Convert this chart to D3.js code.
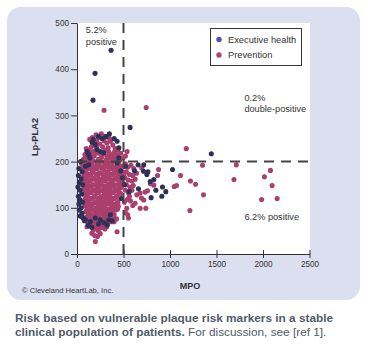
<!DOCTYPE html>
<html>
<head>
<meta charset="utf-8">
<script src="https://cdn.jsdelivr.net/npm/d3@7"></script>
<style>
  html, body { margin: 0; padding: 0; background: #ffffff; }
  svg { display: block; font-family: "Liberation Sans", Arial, sans-serif; }
</style>
</head>
<body>
<svg id="chart" width="368" height="347"></svg>
<script>
// Tick values
const xTicks = [0, 500, 1000, 1500, 2000, 2500];
const yTicks = [0, 100, 200, 300, 400, 500];

// Cut-off values for each marker
const mpoCutoff = 500;
const lpCutoff = 200;

// Series labels
const seriesNames = ["Executive health", "Prevention"];

// Executive health patients: [MPO, Lp-PLA2]
const executivePoints = [
  [366,441],[194,391],[172,333],[571,274],[1444,217],[1027,183],[919,145],[955,135],
  [912,125],[797,122],[848,138],[826,161],[787,157],[751,172],[715,179],[762,178],
  [718,193],[657,193],[618,180],[661,141],[560,135],
  [348,260],[312,254],[162,242],[197,237],[431,244],[126,215],[108,222],[137,208],
  [216,226],[251,222],[288,219],[449,208],[431,197],[126,193],[90,190],
  [40,200],[20,185],[55,178],[15,170],[45,163],[25,155],[60,150],[10,145],[35,138],
  [50,130],[15,125],[30,118],[60,112],[20,108],[45,100],[25,95],[55,88],[35,82],
  [65,78],[80,72],
  [54,81],[89,74],[143,70],[197,78],[251,74],[323,63],[342,74],[359,85],
  [120,62],[160,58],[230,65],[290,68],[380,72],
  [470,180],[490,165],[510,150],[480,120],[520,190],[450,230],[400,250],[270,250],
  [230,255],[175,248]
];

// Prevention patients: [MPO, Lp-PLA2]
const preventionPoints = [
  // high MPO tail
  [291,311],[744,317],[1175,228],[1113,170],[1220,158],[1275,151],[1070,148],[1045,146],
  [1214,94],[1350,192],[1360,128],[1713,193],[1688,161],[2015,167],[2080,181],[2098,148],
  [1985,118],[2152,120],
  [877,183],[866,170],[790,152],[826,149],[697,186],[758,137],[733,134],[718,117],
  [679,132],[643,128],[693,121],[625,110],[679,99],[740,99],[564,125],[535,99],[553,78],
  [539,222],[521,212],
  [520,195],[545,188],[580,192],[610,185],[530,178],[565,172],[600,170],[640,175],
  [515,165],[550,160],[590,158],[625,162],[530,150],[570,145],[605,148],[520,138],
  [555,132],[590,138],[540,118],[510,112],[575,115],[600,105],[520,90],[545,85],
  // main group
  [137,248],[262,260],[228,252],[290,245],[180,240],[245,238],[320,240],[360,244],
  [205,258],[155,232],[275,232],[335,230],[385,236],[410,228],
  [165,252],[210,245],[300,255],[350,250],
  [100,228],[130,225],[175,222],[210,230],[240,218],[300,225],[340,222],[365,215],
  [400,220],[440,225],[470,218],
  [85,215],[140,216],[200,218],[270,216],[320,212],[380,210],[430,215],
  [70,205],[105,210],[150,208],[185,212],[230,205],[265,210],[310,203],[350,208],
  [385,200],[420,210],[460,204],[495,208],
  [90,201],[135,200],[175,202],[215,199],[255,201],[295,198],[335,201],[375,197],
  [410,202],[450,199],
  [50,195],[85,198],[120,192],[160,196],[200,190],[240,195],[280,189],[320,196],
  [360,192],[400,188],[440,196],[475,190],
  [70,188],[105,187],[145,189],[185,186],[225,188],[265,186],[305,190],[345,186],
  [385,189],[425,186],[460,188],
  [60,182],[95,178],[135,185],[170,180],[210,184],[250,176],[290,183],[330,178],
  [370,184],[410,177],[450,182],[490,178],
  [80,174],[120,173],[160,176],[200,173],[240,175],[280,172],[320,174],[360,173],
  [400,175],[440,173],[480,174],
  [70,168],[110,165],[145,171],[185,164],[225,170],[265,163],[305,169],[345,165],
  [385,171],[425,164],[465,168],[505,172],
  [85,161],[125,160],[165,162],[205,160],[245,161],[285,160],[325,162],[365,160],
  [405,162],[445,160],[480,162],
  [65,155],[100,152],[140,158],[178,150],[218,157],[258,152],[298,158],[338,151],
  [378,156],[418,150],[455,157],[495,153],
  [85,149],[130,148],[170,150],[210,148],[250,149],[290,147],[330,149],[370,148],
  [410,149],[455,147],
  [75,143],[115,140],[155,146],[195,139],[235,145],[275,138],[315,144],[355,140],
  [395,146],[435,139],[475,144],
  [90,136],[130,135],[170,137],[210,135],[250,137],[290,134],[330,136],[370,135],
  [410,137],[450,135],
  [70,130],[110,127],[150,133],[190,126],[230,132],[270,125],[310,131],[350,127],
  [390,133],[430,126],[470,131],
  [95,122],[140,121],[180,123],[220,121],[260,123],[300,121],[340,123],[380,121],
  [420,123],[460,120],
  [80,117],[120,114],[160,120],[200,112],[240,118],[280,113],[320,119],[360,114],
  [400,120],[440,112],
  [100,110],[145,109],[185,111],[225,109],[265,110],[305,109],[345,111],[385,109],
  [425,110],
  [85,104],[125,101],[165,107],[205,100],[245,106],[285,102],[325,108],[365,101],
  [405,106],[445,103],
  [110,97],[150,98],[195,96],[235,98],[275,97],[315,98],[355,96],[395,98],[435,97],
  [95,92],[135,88],[175,95],[215,90],[255,94],[295,88],[335,93],[375,89],[415,95],
  [120,86],[160,85],[200,87],[240,85],[280,86],[320,85],[360,87],[400,85],
  [105,80],[145,77],[185,83],[225,76],[265,82],[305,78],[345,84],[385,80],[425,76],
  [130,73],[180,72],[220,74],[260,72],[300,73],[350,72],[400,70],
  [115,68],[160,64],[200,70],[245,66],[285,71],[330,65],[372,70],
  [140,60],[190,62],[235,60],[280,61],[320,59],
  [108,59],[175,52],[205,55],[230,50],[262,57],[300,54],
  [197,27],[190,40],[220,38],[431,48],[160,45],[250,44]
];

// Region annotations: [MPO, Lp-PLA2, lines]
const annotations = [
  { x: 95, y: 478, lines: ["5.2%", "positive"] },
  { x: 1800, y: 332, lines: ["0.2%", "double-positive"] },
  { x: 1800, y: 74, lines: ["6.2% positive"] }
];

const colors = {
  panel: "#dcdff0",
  exec: "#2f3058",
  prev: "#aa3f6d",
  execKey: "#4b53ad",
  prevKey: "#b0456e",
  ink: "#333333",
  caption: "#4f5b68"
};

const svg = d3.select("#chart");

// Rounded figure panel
svg.append("rect")
  .attr("x", 7).attr("y", 7).attr("width", 353).attr("height", 293)
  .attr("rx", 14).attr("ry", 14)
  .attr("fill", colors.panel);

const x = d3.scaleLinear().domain([0, 2500]).range([77, 309.5]);
const y = d3.scaleLinear().domain([0, 500]).range([254, 23]);

// White plotting area
svg.append("rect")
  .attr("x", x(0)).attr("y", y(500))
  .attr("width", x(2500) - x(0) + 0.5).attr("height", y(0) - y(500))
  .attr("fill", "#ffffff");

// Points
const r = 2.55;
svg.append("g").selectAll("circle")
  .data(preventionPoints).join("circle")
  .attr("cx", d => x(d[0])).attr("cy", d => y(d[1])).attr("r", r)
  .attr("fill", colors.prev);

svg.append("g").selectAll("circle")
  .data(executivePoints).join("circle")
  .attr("cx", d => x(d[0])).attr("cy", d => y(d[1])).attr("r", r)
  .attr("fill", colors.exec);

// Cut-off lines
svg.append("line")
  .attr("x1", x(mpoCutoff)).attr("x2", x(mpoCutoff))
  .attr("y1", y(500)).attr("y2", y(0))
  .attr("stroke", "#444").attr("stroke-width", 2).attr("stroke-dasharray", "10,7");
svg.append("line")
  .attr("x1", x(0)).attr("x2", x(2500))
  .attr("y1", y(lpCutoff)).attr("y2", y(lpCutoff))
  .attr("stroke", "#444").attr("stroke-width", 2).attr("stroke-dasharray", "10,7");

// Axes
const xAxis = svg.append("g")
  .attr("transform", `translate(0,${y(0)})`)
  .call(d3.axisBottom(x).tickValues(xTicks).tickFormat(d3.format("d"))
    .tickSize(4).tickSizeOuter(0).tickPadding(3));
xAxis.selectAll(".tick").append("line")
  .attr("y1", 0).attr("y2", -4).attr("stroke", colors.ink);

const yAxis = svg.append("g")
  .attr("transform", `translate(${x(0)},0)`)
  .call(d3.axisLeft(y).tickValues(yTicks).tickFormat(d3.format("d"))
    .tickSize(6).tickSizeOuter(0).tickPadding(2));

[xAxis, yAxis].forEach(g => {
  g.select(".domain").attr("stroke", colors.ink);
  g.selectAll(".tick line").attr("stroke", colors.ink);
  g.selectAll("text")
    .attr("fill", colors.ink)
    .style("font-size", "8.2px")
    .style("font-family", "'Liberation Sans', Arial, sans-serif");
});

// Axis titles
svg.append("text")
  .attr("x", 190).attr("y", 289)
  .attr("text-anchor", "middle")
  .attr("font-size", 9).attr("font-weight", "bold").attr("fill", colors.ink)
  .text("MPO");
svg.append("text")
  .attr("transform", "translate(38,137) rotate(-90)")
  .attr("text-anchor", "middle")
  .attr("font-size", 9.3).attr("font-weight", "bold").attr("fill", colors.ink)
  .text("Lp-PLA2");

// Region annotations
annotations.forEach(a => {
  const t = svg.append("text")
    .attr("x", x(a.x)).attr("y", y(a.y))
    .attr("font-size", 9.2).attr("fill", colors.ink);
  a.lines.forEach((line, i) => {
    t.append("tspan").attr("x", x(a.x)).attr("dy", i === 0 ? 0 : 11.5).text(line);
  });
});

// Legend
const legend = svg.append("g");
legend.append("rect")
  .attr("x", 210.5).attr("y", 28.5).attr("width", 91).attr("height", 37)
  .attr("fill", "#ffffff").attr("stroke", colors.ink).attr("stroke-width", 1);
[colors.execKey, colors.prevKey].forEach((c, i) => {
  legend.append("circle")
    .attr("cx", 219).attr("cy", 39.5 + i * 15.5).attr("r", 2.7).attr("fill", c);
  legend.append("text")
    .attr("x", 228).attr("y", 42.8 + i * 15.5)
    .attr("font-size", 9.3).attr("fill", colors.ink)
    .text(seriesNames[i]);
});

// Credit line
svg.append("text")
  .attr("x", 22).attr("y", 293)
  .attr("font-size", 7.6).attr("fill", colors.ink)
  .text("© Cleveland HeartLab, Inc.");

// Caption below the panel
const cap1 = svg.append("text")
  .attr("x", 15).attr("y", 321.5)
  .attr("font-size", 11.8).attr("fill", colors.caption);
cap1.append("tspan").attr("font-weight", "bold")
  .text("Risk based on vulnerable plaque risk markers in a stable");
const cap2 = svg.append("text")
  .attr("x", 15).attr("y", 335.5)
  .attr("font-size", 11.8).attr("fill", colors.caption);
cap2.append("tspan").attr("font-weight", "bold").text("clinical population of patients.");
cap2.append("tspan").text(" For discussion, see [ref 1].");
</script>
</body>
</html>
